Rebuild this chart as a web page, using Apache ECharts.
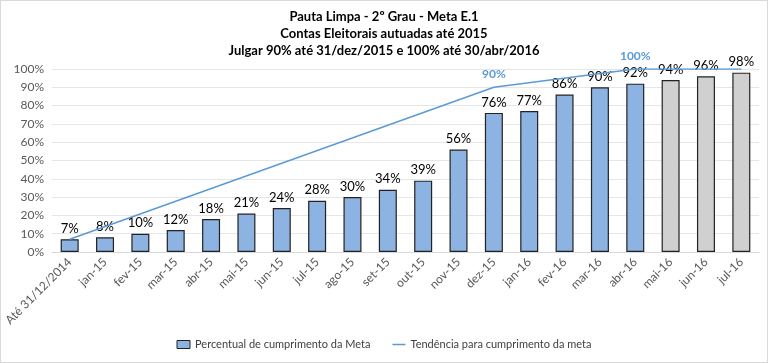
<!DOCTYPE html>
<html><head><meta charset="utf-8">
<script src="https://cdn.jsdelivr.net/npm/echarts@6/dist/echarts.min.js"></script>
<style>html,body{margin:0;padding:0;background:#fff}#c{width:766px;height:361px;border:1px solid #d9d9d9}</style>
</head><body><div id="c"></div>
<script>
const titleLines = ['Pauta Limpa - 2º Grau - Meta E.1','Contas Eleitorais autuadas até 2015','Julgar 90% até 31/dez/2015 e 100% até 30/abr/2016'];
const categories = ['Até 31/12/2014','jan-15','fev-15','mar-15','abr-15','mai-15','jun-15','jul-15','ago-15','set-15','out-15','nov-15','dez-15','jan-16','fev-16','mar-16','abr-16','mai-16','jun-16','jul-16'];
const barValues = [7,8,10,12,18,21,24,28,30,34,39,56,76,77,86,90,92,94,96,98];
const projected = [false,false,false,false,false,false,false,false,false,false,false,false,false,false,false,false,false,true,true,true];
const trendValues = [7,null,null,null,null,null,null,null,null,null,null,null,90,null,null,null,100,null,null,100];
const trendLabeled = [12,16];
const yTicks = [0,10,20,30,40,50,60,70,80,90,100];
const seriesNames = ['Percentual de cumprimento da Meta','Tendência para cumprimento da meta'];

const font = 'Lato, "Open Sans", sans-serif';
const chart = echarts.init(document.getElementById('c'));
chart.setOption({
  animation:false,
  textStyle:{fontFamily:font},
  title:{text:titleLines.join('\n'),left:'center',top:2,textStyle:{fontSize:13,fontWeight:'bold',color:'#000',lineHeight:17,fontFamily:font}},
  grid:{left:51,right:8,top:68,bottom:110},
  legend:{bottom:7,left:'center',itemGap:22,itemWidth:13,itemHeight:8,textStyle:{fontSize:11,color:'#404040',fontFamily:font},
    data:[{name:seriesNames[0],icon:'rect',itemStyle:{color:'#8db3e2',borderColor:'#222',borderWidth:1}},
          {name:seriesNames[1],icon:'path://M0,0L13,0L13,1.5L0,1.5Z',itemStyle:{color:'#5b9bd5'}}]},
  xAxis:{type:'category',data:categories,axisTick:{show:false},axisLine:{lineStyle:{color:'#d9d9d9'}},
    axisLabel:{rotate:45,interval:0,fontSize:12,color:'#595959',margin:8,fontFamily:font}},
  yAxis:{type:'value',min:yTicks[0],max:yTicks[yTicks.length-1],interval:10,
    axisLabel:{formatter:'{value}%',fontSize:12,color:'#595959',fontFamily:font},
    splitLine:{lineStyle:{color:'#e6e6e6'}},axisLine:{show:false},axisTick:{show:false}},
  series:[
    {name:seriesNames[0],type:'bar',barWidth:18,
     data:barValues.map((v,i)=>({value:v,itemStyle:{color:projected[i]?'#d0d0d0':'#8db3e2'}})),
     itemStyle:{borderColor:'#222',borderWidth:1.2},
     label:{show:true,position:'top',formatter:'{c}%',fontSize:13,color:'#000',distance:4,fontFamily:font}},
    {name:seriesNames[1],type:'line',connectNulls:true,symbol:'none',z:5,
     lineStyle:{color:'#5b9bd5',width:1.5},itemStyle:{color:'#5b9bd5'},
     data:trendValues.map((v,i)=>trendLabeled.includes(i)?{value:v,symbol:'circle',symbolSize:0.1,label:{show:true,position:'top',formatter:'{c}%',color:'#5b9bd5',fontWeight:'bold',fontSize:12,distance:7}}:v)}
  ]
});
</script></body></html>
